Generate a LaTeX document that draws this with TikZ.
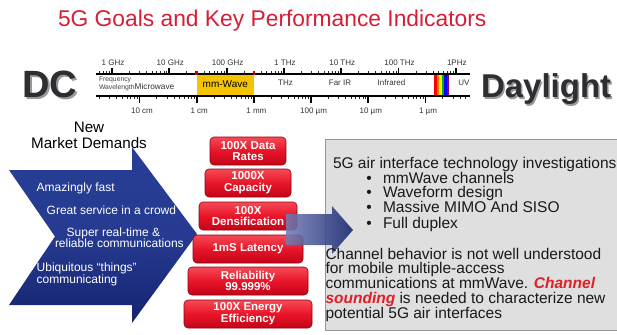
\documentclass[tikz,border=0pt]{standalone}
\usepackage{fontspec}
\setmainfont{Liberation Sans}
\definecolor{titlered}{RGB}{215,30,55}
\definecolor{navyA}{RGB}{40,62,150}
\definecolor{navyB}{RGB}{22,36,112}
\definecolor{navyL}{RGB}{115,125,180}
\definecolor{kpitop}{RGB}{245,75,85}
\definecolor{kpimid}{RGB}{232,20,40}
\definecolor{kpibot}{RGB}{195,5,25}
\definecolor{kpiedge}{RGB}{150,0,20}
\definecolor{mmyellow}{RGB}{245,196,0}
\definecolor{boxgray}{RGB}{223,223,223}
\definecolor{boxedge}{RGB}{150,150,150}
\definecolor{bigdark}{RGB}{45,45,50}
\definecolor{emred}{RGB}{225,30,40}
\begin{document}
\begin{tikzpicture}[x=1pt,y=-1pt,
  fsz/.style={font=\fontsize{#1}{#1}\selectfont},
  txt/.style={inner sep=0pt, outer sep=0pt},
  titletxt/.style={txt, text=titlered, fsz=22.8},
  scalelbl/.style={txt, fsz=8, text=black!80},
  minortick/.style={line width=0.5pt, black!85},
  majortick/.style={line width=1.8pt, black},
  bigtxt/.style={txt, font=\fontsize{#1}{#1}\selectfont\bfseries},
  kpi/.style={rounded corners=4pt, draw=kpiedge, line width=0.6pt,
    top color=kpitop, bottom color=kpibot, middle color=kpimid,
    text=white, align=center, inner sep=0pt,
    font=\fontsize{11.5}{11.7}\selectfont\bfseries},
  wtxt/.style={txt, text=white, fsz=12},
  boxtxt/.style={txt, text=black!90, fsz=15.5}
]
\useasboundingbox (0,0) rectangle (617,334);
\fill[white] (0,0) rectangle (617,334);

% title
\node[titletxt, anchor=base west] (title) at (58,26.7) {5G Goals and Key Performance Indicators};

% DC and Daylight
\node[bigtxt=38, anchor=base west, text=black!40] (dcs) at (24,99.5) {DC};
\node[bigtxt=38, anchor=base west, text=bigdark] (dc) at (22.5,98) {DC};
\node[bigtxt=33, anchor=base west, text=black!40] (dls) at (482.5,99.5) {Daylight};
\node[bigtxt=33, anchor=base west, text=bigdark] (dl) at (481,98) {Daylight};

% spectrum bar
\fill[mmyellow] (196.7,75.5) rectangle (254,95);
\foreach \i/\c in {0/red,1/orange,2/yellow,3/green!70!black,4/blue,5/violet}{
  \fill[\c] ({434+2.5*\i},75.5) rectangle ({436.6+2.5*\i},95);
}
\begin{scope}
  \clip (96,60) rectangle (470,106);
  \foreach \k in {-1,...,6}{
    \foreach \m in {2,...,9}{
      \draw[minortick] ({112+57.3*(\k+ln(\m)/2.302585)},74) -- ++(0,-3);
    }
  }
  \foreach \k in {-1,...,5}{
    \foreach \m in {2,...,9}{
      \draw[minortick] ({139.5+57.2*(\k+ln(\m)/2.302585)},96) -- ++(0,3);
    }
  }
\end{scope}
\draw[line width=2pt] (96,74.5) -- (470,74.5);
\draw[line width=2pt] (96,96) -- (470,96);
\fill[red!75!black] (195.4,71) rectangle (198,75.5);
\fill[red!75!black] (252.6,71) rectangle (255.2,75.5);

\foreach \k/\t in {0/1 GHz,1/10 GHz,2/100 GHz,3/1 THz,4/10 THz,5/100 THz,6/1PHz}{
  \draw[majortick] ({112+57.3*\k},74) -- ++(0,-5.5);
  \node[scalelbl, anchor=base] (f\k) at ({113+57.3*\k},66) {\t};
}
\foreach \k/\t in {0/10 cm,1/1 cm,2/1 mm,3/100 µm,4/10 µm,5/1 µm}{
  \draw[majortick] ({139.5+57.2*\k},96) -- ++(0,7);
  \node[scalelbl, anchor=base] (w\k) at ({142+57.2*\k},113) {\t};
}
\node[txt, fsz=6.8, anchor=base west, text=black!75] (freq) at (99,81.6) {Frequency};
\node[txt, fsz=6.8, anchor=base west, text=black!75] (wavel) at (99,89.3) {Wavelength};
\node[txt, fsz=8.3, anchor=base west, text=black!80] (micro) at (wavel.base east) {Microwave};
\node[txt, fsz=10, anchor=base] (mmw) at (225.3,88) {mm-Wave};
\node[scalelbl, anchor=base] (thz) at (285.5,86) {THz};
\node[scalelbl, anchor=base] (fir) at (340,86) {Far IR};
\node[scalelbl, anchor=base] (ir) at (391.5,86) {Infrared};
\node[scalelbl, anchor=base] (uv) at (464,86) {UV};

% New market demands
\node[txt, fsz=15.2, anchor=base] (new) at (89,132) {New};
\node[txt, fsz=15.2, anchor=base] (mkt) at (89,148) {Market Demands};

% big blue arrow
\path[top color=navyA, bottom color=navyB, middle color=navyA!85!navyB]
  (9,170) -- (132,170) -- (132,147) -- (197,234) -- (132,323) -- (132,305)
  -- (9,305) -- (55,236.5) -- cycle;
\node[wtxt, anchor=base west] (d1) at (36.7,191) {Amazingly fast};
\node[wtxt, anchor=base west] (d2) at (46.7,214.3) {Great service in a crowd};
\node[wtxt, anchor=base west] (d3) at (66.7,236) {Super real-time \&};
\node[wtxt, anchor=base west] (d4) at (55,247.6) {reliable communications};
\node[wtxt, anchor=base west] (d5) at (36.7,271) {Ubiquitous “things”};
\node[wtxt, anchor=base west] (d6) at (36.7,283.6) {communicating};

% gray box
\path[fill=boxgray] (617,139) rectangle (325,330);
\draw[boxedge, line width=0.8pt] (617,139) -- (325,139) -- (325,330) -- (617,330);

% KPI blocks
\node[kpi, minimum width=76pt, minimum height=28pt] (k1) at (248,151) {100X Data\\Rates};
\node[kpi, minimum width=86pt, minimum height=28pt] (k2) at (248,183) {1000X\\Capacity};
\node[kpi, minimum width=98pt, minimum height=28pt] (k3) at (248,216) {100X\\Densification};
\node[kpi, minimum width=110pt, minimum height=28pt] (k4) at (248,249) {1mS Latency};
\node[kpi, minimum width=120pt, minimum height=28pt] (k5) at (248,281) {Reliability\\99.999\%};
\node[kpi, minimum width=128pt, minimum height=28pt] (k6) at (248,314) {100X Energy\\Efficiency};

% second arrow
\path[left color=navyL, right color=navyB, fill opacity=0.88]
  (286,214) -- (332,214) -- (332,206) -- (353,230) -- (332,254) -- (332,245)
  -- (286,245) -- cycle;

% box text
\node[boxtxt, anchor=base west] (g0) at (333,168.6) {5G air interface technology investigations};
\foreach \n/\y/\t in {1/183.3/mmWave channels,2/197.9/Waveform design,3/212.9/Massive MIMO And SISO,4/228.3/Full duplex}{
  \node[boxtxt, anchor=base west] (b\n) at (366.3,\y) {•};
  \node[boxtxt, anchor=base west] (t\n) at (383,\y) {\t};
}
\node[boxtxt, anchor=base west] (p1) at (325.5,259.6) {Channel behavior is not well understood};
\node[boxtxt, anchor=base west] (p2) at (325.5,273.8) {for mobile multiple-access};
\node[boxtxt, anchor=base west] (p3) at (325.5,288.6) {communications at mmWave. {\color{emred}\bfseries\itshape Channel}};
\node[boxtxt, anchor=base west] (p4) at (325.5,303.6) {{\color{emred}\bfseries\itshape sounding} is needed to characterize new};
\node[boxtxt, anchor=base west] (p5) at (325.5,318.6) {potential 5G air interfaces};
\end{tikzpicture}
\end{document}
